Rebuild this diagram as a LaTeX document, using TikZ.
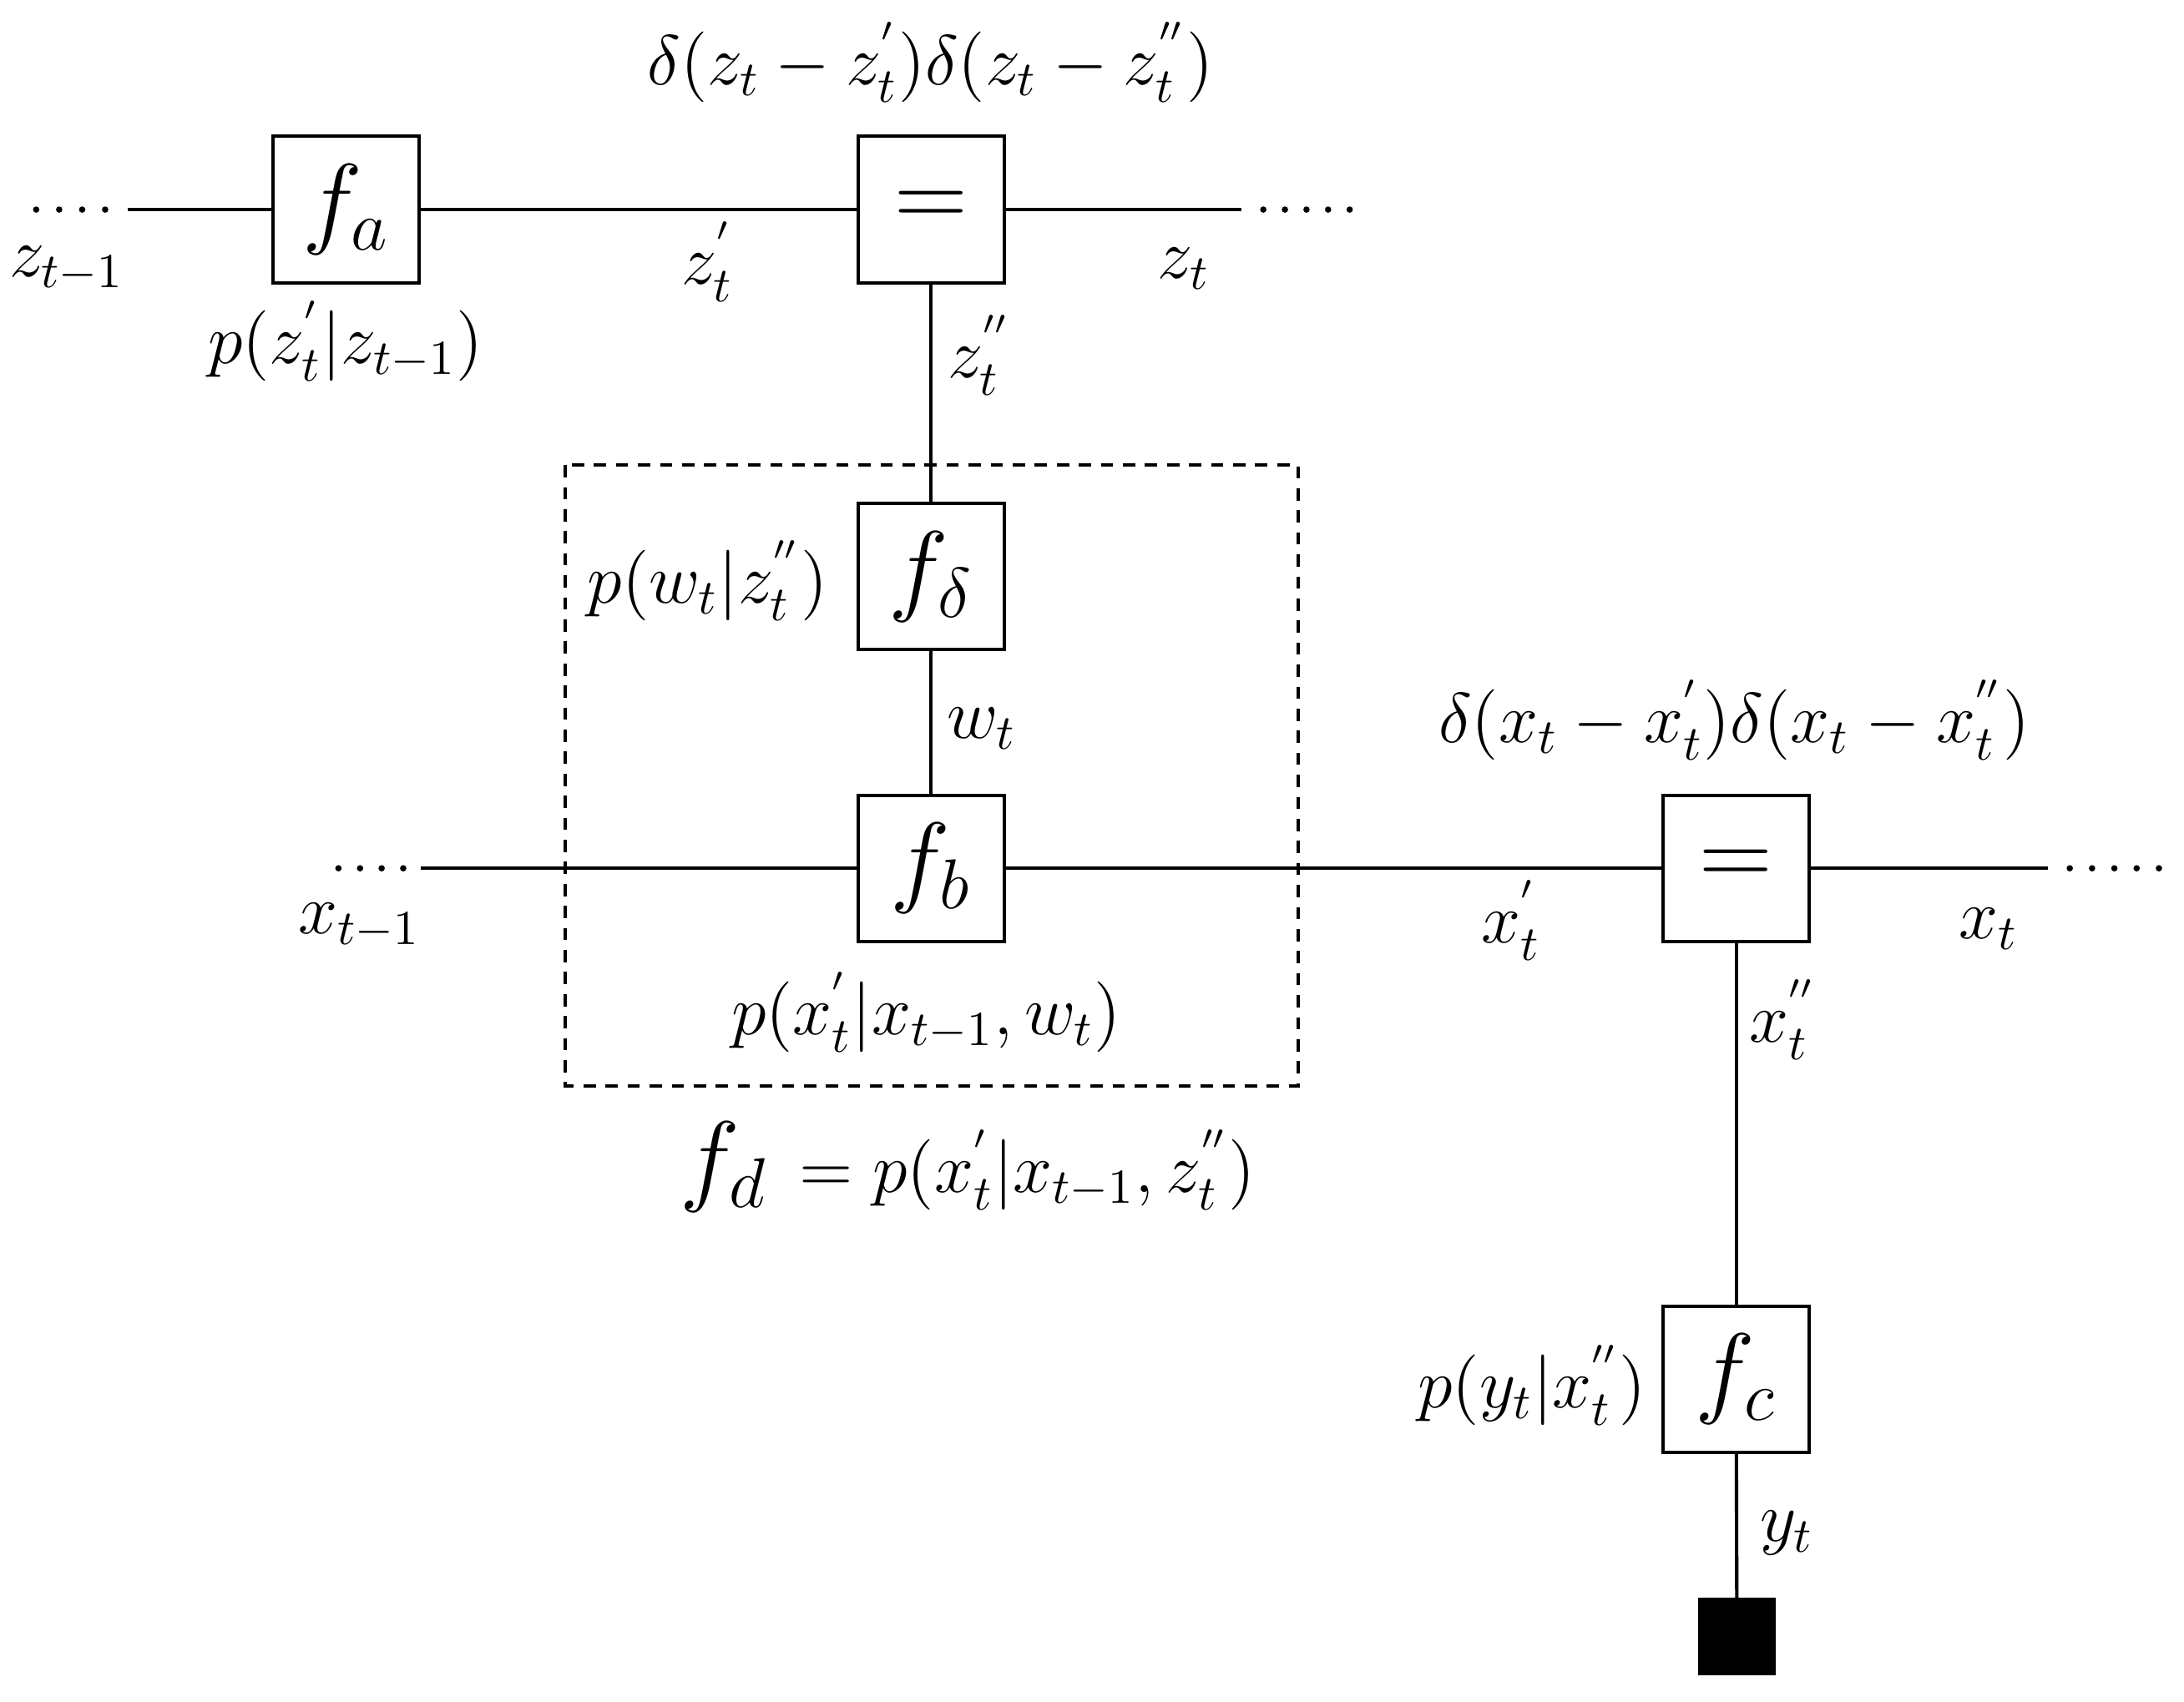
\documentclass[tikz,border=0pt]{standalone}
\begin{document}
\begin{tikzpicture}[x=0.01cm,y=-0.01cm,
  lbl/.style={font=\fontsize{14.4}{17}\selectfont, inner sep=0pt},
  factor/.style={draw, line width=0.7pt, minimum size=1.05cm, inner sep=0pt, font=\fontsize{20.74}{24}\selectfont},
  obsbox/.style={draw, fill=black, minimum size=0.54cm, inner sep=0pt},
  wire/.style={line width=0.7pt},
  region/.style={line width=0.7pt, dash pattern=on 2.5pt off 2pt},
]
\useasboundingbox (0,0) rectangle (1568,1222);

% factor boxes
\node[factor] (fa) at (248.5,150.5) {$f_a$};
\node[factor] (eqz) at (668.5,150.5) {$=$};
\node[factor] (fdelta) at (668.5,414) {$f_\delta$};
\node[factor] (fb) at (668.5,623.5) {$f_b$};
\node[factor] (eqx) at (1246.5,623.5) {$=$};
\node[factor] (fc) at (1246.5,990.5) {$f_c$};
\node[obsbox] (obs) at (1247,1175) {};

% free ends
\coordinate (zl) at (92,150.5);
\coordinate (zr) at (891,150.5);
\coordinate (xl) at (302,623.5);
\coordinate (xr) at (1470,623.5);

% wires
\draw[wire] (zl) -- (fa) -- (eqz) -- (zr);
\draw[wire] (xl) -- (fb) -- (eqx) -- (xr);
\draw[wire] (eqz) -- (fdelta);
\draw[wire] (fdelta) -- (fb);
\draw[wire] (eqx) -- (fc);
\draw[wire] (fc) -- (obs);

% dots
\foreach \i in {0,...,3} \fill (26+\i*16.5,150.5) circle[radius=0.65pt];
\foreach \i in {0,...,4} \fill (907+\i*15.5,150.5) circle[radius=0.65pt];
\foreach \i in {0,...,3} \fill (243+\i*15.5,623.5) circle[radius=0.65pt];
\foreach \i in {0,...,4} \fill (1486+\i*16,623.5) circle[radius=0.65pt];

% dashed region
\draw[region] (406,334) rectangle (932,780);

% labels
\node[lbl] (lzt1) at (48,193) {$z_{t-1}$};
\node[lbl] (lpa) at (248,245) {$p(z_t^{'}|z_{t-1})$};
\node[lbl] (lzp) at (508,188) {$z_t^{'}$};
\node[lbl] (lzt) at (850,193) {$z_t$};
\node[lbl] (ldz) at (668,45) {$\delta(z_t - z_t^{'})\delta(z_t - z_t^{''})$};
\node[lbl] (lzpp) at (703,255) {$z_t^{''}$};
\node[lbl] (lpw) at (508,417) {$p(w_t|z_t^{''})$};
\node[lbl] (lw) at (705,523) {$w_t$};
\node[lbl] (lxt1) at (258,665) {$x_{t-1}$};
\node[lbl] (lpb) at (665,727) {$p(x_t^{'}|x_{t-1},w_t)$};
\node[lbl] (lxp) at (1085,661) {$x_t^{'}$};
\node[lbl] (lxt) at (1428,667) {$x_t$};
\node[lbl] (ldx) at (1245,517) {$\delta(x_t - x_t^{'})\delta(x_t - x_t^{''})$};
\node[lbl] (lxpp) at (1280,732) {$x_t^{''}$};
\node[lbl] (lfd) at (695,838) {{\fontsize{20.74}{24}\selectfont$f_d$}\hspace{0.45em}$=p(x_t^{'}|x_{t-1},z_t^{''})$};
\node[lbl] (lpc) at (1100,995) {$p(y_t|x_t^{''})$};
\node[lbl] (ly) at (1283,1101) {$y_t$};
\end{tikzpicture}
\end{document}
